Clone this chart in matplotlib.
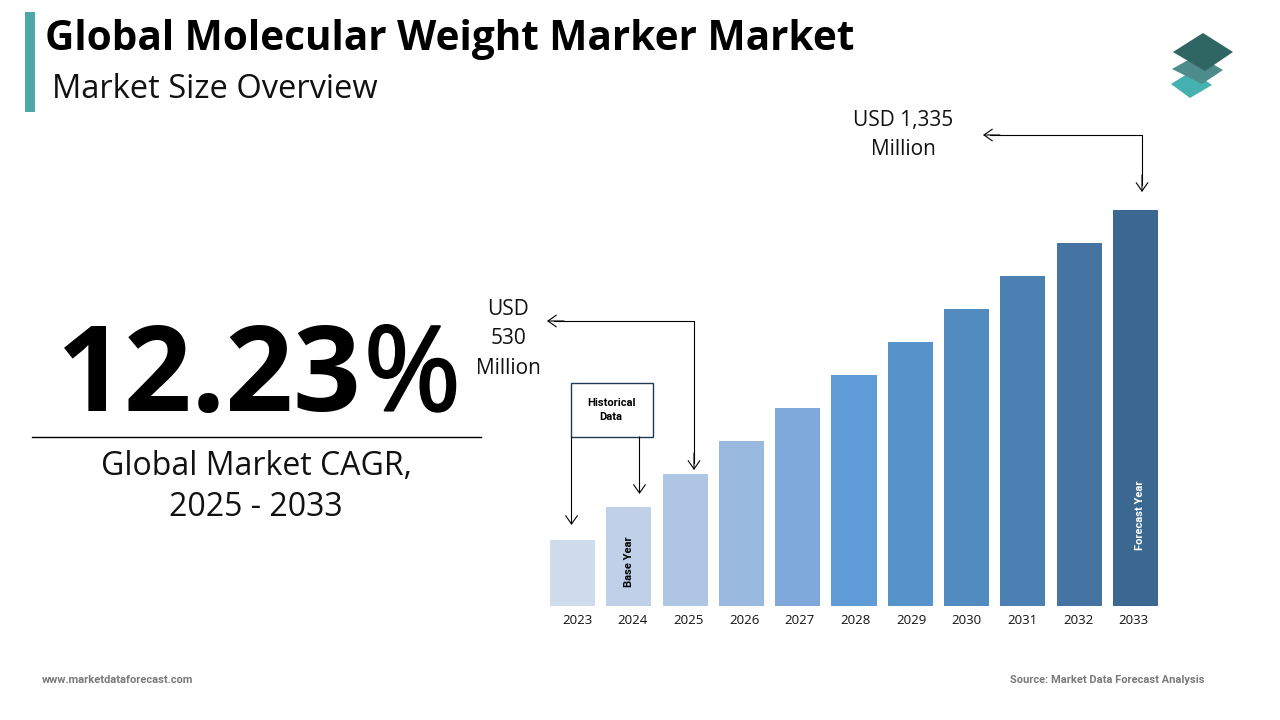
import matplotlib
matplotlib.use("Agg")
import matplotlib.pyplot as plt
import matplotlib.patheffects as path_effects
from matplotlib.patches import Polygon, Rectangle

years = ["2023", "2024", "2025", "2026", "2027", "2028", "2029", "2030", "2031", "2032", "2033"]
# bar heights (relative, no y axis is shown)
heights = [66, 99, 132, 165, 198, 231, 264, 297, 330, 363, 396]
bar_colors = ["#CFDCEE", "#BFD0E8", "#AEC6E4", "#99B9DF", "#7FA9DA", "#5F9BD6",
              "#5793CB", "#528BC0", "#4C80B2", "#4574A2", "#3B6890"]

title = "Global Molecular Weight Marker Market"
subtitle = "Market Size Overview"
cagr_number = "12.23"
cagr_sign = "%"
cagr_label = "Global Market CAGR,\n2025 - 2033"
value_start = "USD\n530\nMillion"
value_end = "USD 1,335\nMillion"
site = "www.marketdataforecast.com"
source = "Source: Market Data Forecast Analysis"

plt.rcParams['font.family'] = ['Open Sans', 'DejaVu Sans']
NARROW = ['Roboto', 'DejaVu Sans']

fig = plt.figure(figsize=(12.8, 7.2), dpi=100, facecolor="white")

# overlay in pixel coordinates for the annotations and decoration
page = fig.add_axes([0, 0, 1, 1])
page.set_xlim(0, 1280)
page.set_ylim(720, 0)
page.axis("off")

# bars
ax = fig.add_axes([550 / 1280, (720 - 606) / 720, 608 / 1280, 396 / 720])
ax.bar(range(len(years)), heights, width=0.8, color=bar_colors)
ax.set_xlim(-0.4, 10.4)
ax.set_ylim(0, 396)
ax.set_yticks([])
# the year labels are spaced a little tighter than the bars
ax.set_xticks([0.08 + 0.989 * i for i in range(len(years))])
ax.set_xticklabels(years, fontsize=9.5, color="#111111")
ax.tick_params(axis="x", length=0, pad=6)
for s in ax.spines.values():
    s.set_visible(False)
ax.patch.set_alpha(0)

# in-bar labels
ax.text(1, 19, "Base Year", rotation=90, ha="center", va="bottom",
        fontsize=8, fontweight="bold", family=NARROW, color="black")
ax.text(10.08, 56, "Forecast Year", rotation=90, ha="center", va="bottom",
        fontsize=8, fontweight="bold", family=NARROW, color="white")

# header
page.add_patch(Rectangle((25, 12), 10, 100, facecolor="#4FA8A8", edgecolor="none"))
page.text(45, 39, title, fontsize=29.2, fontweight="bold", va="center", ha="left", color="black")
page.text(52, 90, subtitle, fontsize=23.5, va="center", ha="left", color="#111111")

# logo
page.add_patch(Polygon([(1171, 84), (1192, 71), (1212, 85), (1190, 98)], closed=True,
                       facecolor="#45B0B0", edgecolor="none"))
page.add_patch(Polygon([(1172, 69), (1197, 55), (1223, 70), (1202, 84)], closed=True,
                       facecolor="#4E8B8B", edgecolor="none"))
page.add_patch(Polygon([(1173, 52), (1203, 33), (1233, 52), (1205, 71)], closed=True,
                       facecolor="#2F6663", edgecolor="none"))

# left side stat, the sign is lighter than the digits
page.text(57, 380, cagr_number, fontsize=85.5, fontweight="bold", va="center", ha="left", color="black")
sign = page.text(461, 380, cagr_sign, fontsize=85, va="center", ha="right", color="black")
sign.set_path_effects([path_effects.withStroke(linewidth=1.5, foreground="black")])
page.plot([32, 481], [436.5, 436.5], color="black", lw=1)
page.text(256, 487, cagr_label, fontsize=23, va="center", ha="center", color="#111111",
          linespacing=1.3)

# value callouts
page.text(903, 135, value_end, fontsize=15, va="center", ha="center", color="#111111", linespacing=1.55)
page.text(508, 339, value_start, fontsize=15, va="center", ha="center", color="#111111", linespacing=1.55)

arrow = dict(arrowstyle="->,head_length=0.6,head_width=0.42", color="black", lw=0.8,
             shrinkA=0, shrinkB=0)

# elbow connectors with an open head at each end
page.plot([1142, 1142, 990], [185, 135, 135], color="black", lw=0.8)
page.annotate("", xy=(983, 135), xytext=(1000, 135), arrowprops=arrow)
page.annotate("", xy=(1142, 192), xytext=(1142, 175), arrowprops=arrow)
page.plot([694, 694, 554], [463, 321, 321], color="black", lw=0.8)
page.annotate("", xy=(547, 321), xytext=(564, 321), arrowprops=arrow)
page.annotate("", xy=(694, 470), xytext=(694, 453), arrowprops=arrow)

# historical data box
page.add_patch(Rectangle((570.5, 382.5), 82, 54, facecolor="white", edgecolor="#1F3A55", lw=1))
page.text(611, 410, "Historical\nData", fontsize=8, fontweight="bold", family=NARROW, ha="center",
          va="center", color="black", linespacing=1.45)
page.annotate("", xy=(571.5, 525), xytext=(571.5, 437), arrowprops=arrow)
page.annotate("", xy=(639.5, 494), xytext=(639.5, 437), arrowprops=arrow)

# footer
page.text(42, 680, site, fontsize=8, fontweight="bold", family=NARROW, va="center", ha="left", color="#7A7A7A")
page.text(1204, 680, source, fontsize=8, fontweight="bold", family=NARROW, va="center", ha="right", color="#7A7A7A")

fig.savefig("out.png", dpi=100)
